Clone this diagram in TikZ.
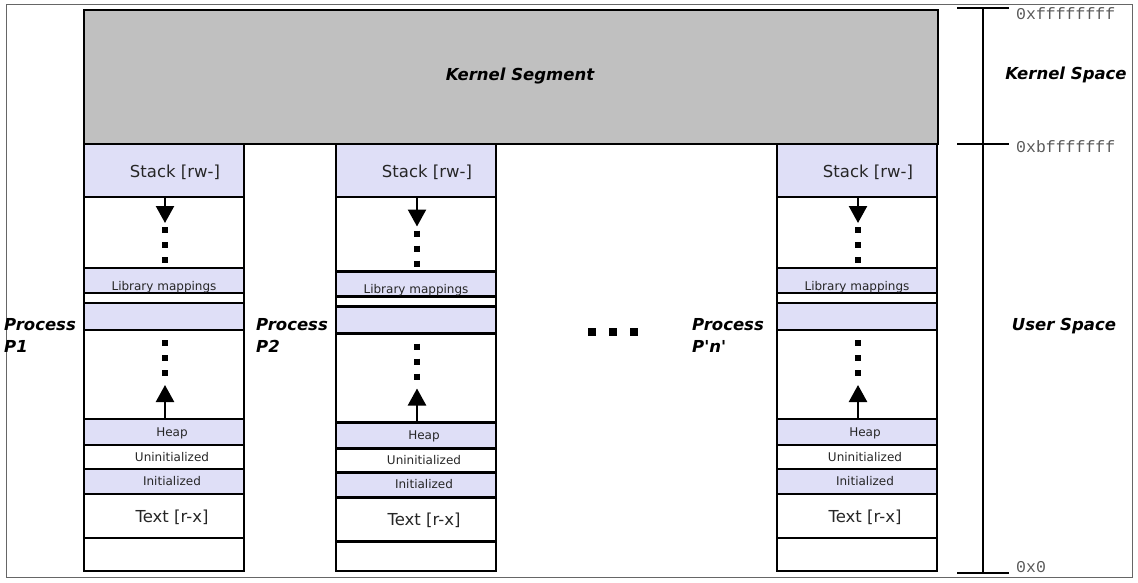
\documentclass[tikz,border=0pt]{standalone}
\usepackage{fontspec}
\setmainfont{DejaVu Sans}
\newfontfamily\hexfont{Liberation Mono}
\usetikzlibrary{arrows.meta}
\definecolor{seg}{RGB}{223,223,247}
\definecolor{kern}{RGB}{192,192,192}

\begin{document}
\begin{tikzpicture}[x=1pt,y=-1pt,
  box/.style={draw,line width=2.8pt},
  big/.style={font=\fontsize{16.5}{18}\selectfont,text=black!85},
  small/.style={font=\fontsize{12}{13}\selectfont,text=black!85},
  bi/.style={font=\fontsize{16.5}{22}\selectfont\bfseries\itshape,inner sep=0pt},
  hex/.style={font=\hexfont\fontsize{16.5}{18}\selectfont,text=black!65,anchor=west,inner sep=0pt},
  growarrow/.style={line width=2.4pt,-{Triangle[width=18pt,length=17pt]}},
  dots/.style={line width=5.5pt,dash pattern=on 6pt off 9pt},
  tick/.style={line width=2.4pt}]
  \useasboundingbox (0,0) rectangle (1138,583);
  \draw[black!60,line width=1pt] (6,5) rectangle (1132,577);
  % kernel part
  \draw[box,fill=kern] (84,10) rectangle (938,144);
  \node[bi] (kseg) at (520,76) {Kernel Segment};
  % one column per process
  \foreach \x/\d/\c in {84/0/a,336/3.5/b,777/0/c}{
    \begin{scope}[shift={(\x,0)}]
      \fill[seg] (0,144) rectangle (160,197);
      \fill[seg] (0,268+\d) rectangle (160,293+\d);
      \fill[seg] (0,303+\d) rectangle (160,330+\d);
      \fill[seg] (0,419+\d) rectangle (160,445+\d);
      \fill[seg] (0,469+\d) rectangle (160,494+\d);
      \foreach \y in {268,293,303,330,419,445,469,494,538}
        \draw[line width=2.8pt] (0,\y+\d) -- (160,\y+\d);
      \draw[line width=2.8pt] (0,197) -- (160,197);
      \draw[box] (0,144) rectangle (160,571);
      \node[big] (\c-stack) at (91,172) {Stack [rw-]};
      \node[small] (\c-lib) at (80,287+\d) {Library mappings};
      \node[small] (\c-heap) at (88,433+\d) {Heap};
      \node[small] (\c-bss) at (88,457+\d) {Uninitialized};
      \node[small] (\c-data) at (88,481+\d) {Initialized};
      \node[big] (\c-text) at (88,517+\d) {Text [r-x]};
      % growth of stack and heap
      \coordinate (\c-s0) at (81,197);
      \coordinate (\c-s1) at (81,223+\d);
      \coordinate (\c-h0) at (81,419+\d);
      \coordinate (\c-h1) at (81,385+\d);
      \draw[growarrow] (\c-s0) -- (\c-s1);
      \draw[dots] (81,227+\d) -- (81,266+\d);
      \draw[growarrow] (\c-h0) -- (\c-h1);
      \draw[dots] (81,340+\d) -- (81,379+\d);
    \end{scope}
  }
  \node[bi,anchor=north west,align=left] (p1) at (4,318) {Process\\P1};
  \node[bi,anchor=north west,align=left] (p2) at (256,318) {Process\\P2};
  \node[bi,anchor=north west,align=left] (pn) at (692,318) {Process\\P\textquotesingle n\textquotesingle};
  \foreach \p in {592,613,634}
    \fill (\p-4,328) rectangle ++(8,8);
  % address scale
  \coordinate (top) at (983,8);
  \coordinate (bot) at (983,573);
  \draw[tick] (top) -- (bot);
  \draw[tick] (957,8) -- (1009,8);
  \draw[tick] (957,144) -- (1009,144);
  \draw[tick] (957,573) -- (1009,573);
  \node[hex] (hi) at (1016,14) {0xffffffff};
  \node[hex] (mid) at (1016,147) {0xbfffffff};
  \node[hex] (lo) at (1016,567) {0x0};
  \node[bi] (ks) at (1066,75) {Kernel Space};
  \node[bi] (us) at (1064,326) {User Space};
\end{tikzpicture}
\end{document}
